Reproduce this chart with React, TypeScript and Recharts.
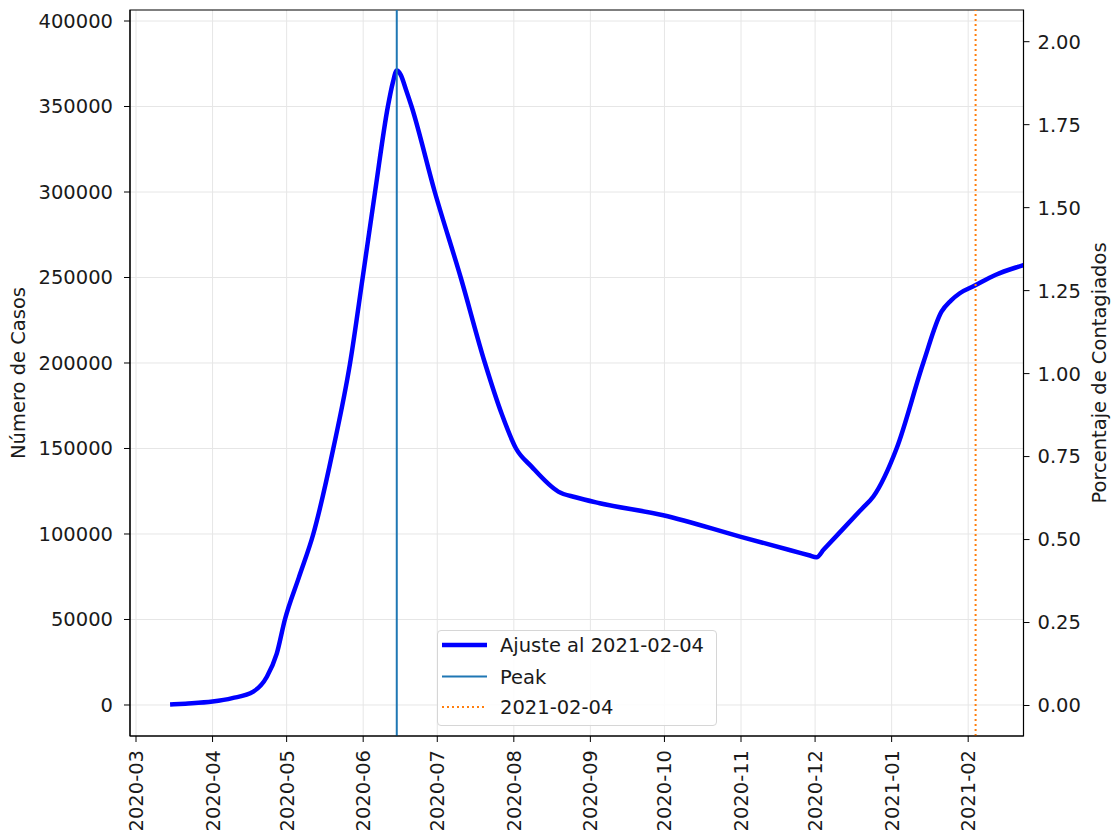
import React from 'react';
import { LineChart, Line, XAxis, YAxis, CartesianGrid, ReferenceLine, ReferenceArea } from 'recharts';

// Days counted from 2020-03-01
const days = [13.8, 20, 31, 39, 47.5, 53, 57, 60.3, 66, 71.8, 79.9, 86.7, 91.8, 96.8, 102, 104, 105.6, 107.2, 109.3, 111.6, 121, 131.5, 141.3, 148, 153.9, 160.2, 171, 178, 187.8, 213.5, 244.6, 265, 272.5, 275.6, 278.5, 287, 294, 298.6, 308, 318.8, 326.2, 330, 333.6, 339.3, 348, 358.8, 362];
const cases = [300, 800, 2000, 4000, 7800, 16500, 30000, 50000, 74800, 100000, 150000, 200000, 250000, 300000, 350000, 364000, 371000, 368500, 360000, 350000, 300000, 250000, 200000, 170600, 150000, 139400, 124800, 121500, 118000, 111000, 98500, 90500, 87600, 86400, 90900, 104000, 114800, 121900, 150000, 200000, 230000, 236500, 240800, 245000, 251500, 257000, 258500];

const monthTickDays = [0, 31, 61, 92, 122, 153, 184, 214, 245, 275, 306, 337];
const monthTickLabels = ['2020-03', '2020-04', '2020-05', '2020-06', '2020-07', '2020-08', '2020-09', '2020-10', '2020-11', '2020-12', '2021-01', '2021-02'];
const caseTicks = [0, 50000, 100000, 150000, 200000, 250000, 300000, 350000, 400000];
const pctTicks = [0, 0.25, 0.5, 0.75, 1.0, 1.25, 1.5, 1.75, 2.0];

const peakDay = 105.6;
const cutoffDay = 340;
const legendLabels = ['Ajuste al 2021-02-04', 'Peak', '2021-02-04'];

const xDomain = [-2.43, 359.4];
const caseDomain = [-18129, 406433];
const pctDomain = [-0.0919, 2.0955];

const data = days.map((d, i) => ({ day: d, cases: cases[i] }));

const FONT = 'DejaVu Sans, sans-serif';
const FS = 19.5;
const TXT = '#1a1a1a';

const XTick = (props: any) => {
  const { x, y, payload } = props;
  const idx = monthTickDays.indexOf(payload.value);
  const label = idx >= 0 ? monthTickLabels[idx] : '';
  return (
    <text x={x} y={y} transform={`rotate(-90 ${x} ${y})`} textAnchor="end" dy="0.36em" fontSize={FS} fill={TXT} fontFamily={FONT}>
      {label}
    </text>
  );
};

const LeftLabel = (props: any) => {
  const vb = props.viewBox;
  const cx = vb.x + vb.width - 112;
  const cy = vb.y + vb.height / 2;
  return (
    <text x={cx} y={cy} transform={`rotate(-90 ${cx} ${cy})`} textAnchor="middle" dy="0.36em" fontSize={FS} fill={TXT} fontFamily={FONT}>
      Número de Casos
    </text>
  );
};

const RightLabel = (props: any) => {
  const vb = props.viewBox;
  const cx = vb.x + 75;
  const cy = vb.y + vb.height / 2;
  return (
    <text x={cx} y={cy} transform={`rotate(-90 ${cx} ${cy})`} textAnchor="middle" dy="0.36em" fontSize={FS} fill={TXT} fontFamily={FONT}>
      Porcentaje de Contagiados
    </text>
  );
};

const LegendBox = () => (
  <div
    style={{
      position: 'absolute',
      left: 437,
      top: 630,
      width: 280,
      height: 96,
      boxSizing: 'border-box',
      border: '1px solid #d6d6d6',
      borderRadius: 4,
      background: 'rgba(255,255,255,0.85)',
      fontFamily: FONT,
      fontSize: FS,
      color: TXT,
    }}
  >
    <svg width={280} height={96} style={{ position: 'absolute', left: -1, top: -1 }}>
      <line x1={5} x2={50} y1={15} y2={15} stroke="#0000ff" strokeWidth={4.5} />
      <line x1={5} x2={50} y1={46.5} y2={46.5} stroke="#1f77b4" strokeWidth={2} />
      <line x1={5} x2={50} y1={77} y2={77} stroke="#ff7f0e" strokeWidth={2} strokeDasharray="2 3" />
      <text x={63} y={15} dy="0.36em" fontSize={FS} fill={TXT} fontFamily={FONT}>{legendLabels[0]}</text>
      <text x={63} y={46.5} dy="0.36em" fontSize={FS} fill={TXT} fontFamily={FONT}>{legendLabels[1]}</text>
      <text x={63} y={77} dy="0.36em" fontSize={FS} fill={TXT} fontFamily={FONT}>{legendLabels[2]}</text>
    </svg>
  </div>
);

export default function App() {
  return (
    <div style={{ position: 'absolute', left: 0, top: 0, width: 1111, height: 837, background: '#fff', fontFamily: FONT, overflow: 'hidden' }}>
      <LineChart width={1111} height={837} data={data} margin={{ top: 10, right: 27.5, bottom: 11, left: 70 }}>
        <CartesianGrid stroke="#e6e6e6" strokeWidth={1} verticalValues={monthTickDays} horizontalValues={caseTicks} yAxisId="left" />
        <XAxis
          type="number"
          dataKey="day"
          domain={xDomain}
          allowDataOverflow
          ticks={monthTickDays}
          interval={0}
          height={90}
          tickSize={6}
          tickMargin={8}
          tick={<XTick />}
          stroke="#000"
          tickLine={{ stroke: '#000' }}
        />
        <YAxis
          yAxisId="left"
          orientation="left"
          domain={caseDomain}
          allowDataOverflow
          ticks={caseTicks}
          interval={0}
          width={60}
          tickSize={6}
          tickMargin={11}
          tick={{ fontSize: FS, fill: TXT, fontFamily: FONT }}
          stroke="#000"
          label={<LeftLabel />}
        />
        <YAxis
          yAxisId="right"
          orientation="right"
          domain={pctDomain}
          allowDataOverflow
          ticks={pctTicks}
          interval={0}
          width={60}
          tickSize={6}
          tickMargin={8}
          tickFormatter={(v: number) => v.toFixed(2)}
          tick={{ fontSize: FS, fill: TXT, fontFamily: FONT }}
          stroke="#000"
          label={<RightLabel />}
        />
        <ReferenceArea
          yAxisId="left"
          x1={xDomain[0]}
          x2={xDomain[1]}
          y1={caseDomain[0]}
          y2={caseDomain[1]}
          fill="none"
          stroke="#000"
          strokeWidth={1.2}
          ifOverflow="visible"
        />
        <Line
          yAxisId="left"
          type="monotone"
          dataKey="cases"
          stroke="#0000ff"
          strokeWidth={4.5}
          dot={false}
          isAnimationActive={false}
        />
        <ReferenceLine yAxisId="left" x={peakDay} stroke="#1f77b4" strokeWidth={2} ifOverflow="visible" />
        <ReferenceLine yAxisId="left" x={cutoffDay} stroke="#ff7f0e" strokeWidth={2} strokeDasharray="2 3" ifOverflow="visible" />
      </LineChart>
      <LegendBox />
    </div>
  );
}
